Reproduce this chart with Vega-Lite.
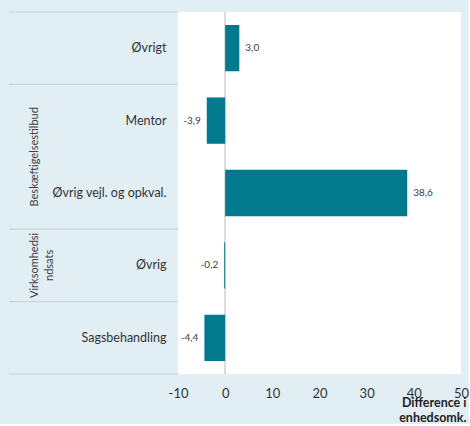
{
  "$schema": "https://vega.github.io/schema/vega-lite/v6.json",
  "background": "#e1eef4",
  "padding": {"left": 8, "top": 11, "right": 0, "bottom": 0},
  "bounds": "flush",
  "spacing": 0,
  "config": {
    "view": {"stroke": null},
    "font": "Lato",
    "locale": {"number": {"decimal": ",", "thousands": ".", "grouping": [3], "currency": ["", " kr."], "minus": "-"}}
  },
  "datasets": {
    "bars": [
      {"kategori": "Øvrigt", "gruppe": "", "diff": 3.0},
      {"kategori": "Mentor", "gruppe": "Beskæftigelsestilbud", "diff": -3.9},
      {"kategori": "Øvrig vejl. og opkval.", "gruppe": "Beskæftigelsestilbud", "diff": 38.6},
      {"kategori": "Øvrig", "gruppe": "Virksomhedsindsats", "diff": -0.2},
      {"kategori": "Sagsbehandling", "gruppe": "", "diff": -4.4}
    ],
    "groups": [
      {"gruppe": "", "label": "", "first": "Øvrigt", "last": "Øvrigt"},
      {"gruppe": "Beskæftigelsestilbud", "label": "Beskæftigelsestilbud", "first": "Mentor", "last": "Øvrig vejl. og opkval."},
      {"gruppe": "Virksomhedsindsats", "label": "Virksomhedsi\nndsats", "first": "Øvrig", "last": "Øvrig"},
      {"gruppe": "", "label": "", "first": "Sagsbehandling", "last": "Sagsbehandling"}
    ]
  },
  "hconcat": [
    {
      "width": 61,
      "height": 362,
      "data": {"name": "groups"},
      "layer": [
        {
          "mark": {"type": "rule", "color": "#c8d6dc", "strokeWidth": 1},
          "encoding": {
            "y": {"field": "first", "type": "nominal", "bandPosition": 0,
              "scale": {"domain": ["Øvrigt", "Mentor", "Øvrig vejl. og opkval.", "Øvrig", "Sagsbehandling"], "paddingInner": 0, "paddingOuter": 0},
              "axis": null}
          }
        },
        {
          "mark": {"type": "rule", "color": "#c8d6dc", "strokeWidth": 1},
          "encoding": {
            "y": {"field": "last", "type": "nominal", "bandPosition": 1}
          }
        },
        {
          "transform": [{"filter": "datum.first === datum.last"}],
          "mark": {"type": "text", "angle": 270, "fontSize": 11, "color": "#404040", "baseline": "bottom", "align": "center", "lineBreak": "\n", "lineHeight": 15},
          "encoding": {
            "y": {"field": "first", "type": "nominal", "bandPosition": 0.5},
            "text": {"field": "label"}
          }
        },
        {
          "transform": [{"filter": "datum.first !== datum.last"}],
          "mark": {"type": "text", "angle": 270, "fontSize": 11, "color": "#404040", "baseline": "bottom", "align": "center", "lineBreak": "\n", "lineHeight": 15},
          "encoding": {
            "y": {"field": "last", "type": "nominal", "bandPosition": 0},
            "text": {"field": "label"}
          }
        }
      ]
    },
    {
      "width": 108,
      "height": 362,
      "data": {"name": "groups"},
      "layer": [
        {
          "mark": {"type": "rule", "color": "#c8d6dc", "strokeWidth": 1},
          "encoding": {
            "y": {"field": "first", "type": "nominal", "bandPosition": 0,
              "scale": {"domain": ["Øvrigt", "Mentor", "Øvrig vejl. og opkval.", "Øvrig", "Sagsbehandling"], "paddingInner": 0, "paddingOuter": 0},
              "axis": null}
          }
        },
        {
          "mark": {"type": "rule", "color": "#c8d6dc", "strokeWidth": 1},
          "encoding": {
            "y": {"field": "last", "type": "nominal", "bandPosition": 1}
          }
        }
      ]
    },
    {
      "width": 283,
      "height": 362,
      "view": {"fill": "white", "stroke": null},
      "data": {"name": "bars"},
      "encoding": {
        "y": {"field": "kategori", "type": "nominal",
          "scale": {"domain": ["Øvrigt", "Mentor", "Øvrig vejl. og opkval.", "Øvrig", "Sagsbehandling"], "paddingInner": 0.36, "paddingOuter": 0.18},
          "axis": {"orient": "left", "title": null, "domain": false, "ticks": false, "tickSize": 0, "labelPadding": 12, "labelFontSize": 12.5, "labelColor": "#333333", "labelFont": "Lato"}}
      },
      "layer": [
        {
          "mark": {"type": "rule", "color": "#d9d9d9", "strokeWidth": 1},
          "encoding": {"x": {"datum": 0, "type": "quantitative"}, "y": null}
        },
        {
          "mark": {"type": "bar", "color": "#007a8c"},
          "encoding": {
            "x": {"field": "diff", "type": "quantitative",
              "scale": {"domain": [-10, 50], "nice": false, "zero": false},
              "axis": {"values": [-10, 0, 10, 20, 30, 40, 50], "format": "d", "domain": false, "ticks": false, "grid": false, "labelFlush": false, "labelOverlap": false,
                "labelPadding": 13, "labelFontSize": 13, "labelColor": "#333333",
                "title": ["Difference i", "enhedsomk."], "titleFontSize": 12.5, "titleFontWeight": "bold", "titleColor": "#222222",
                "titleAnchor": "end", "titleAlign": "right", "titleBaseline": "top", "titleX": 288, "titleY": 22, "titleLineHeight": 15}}
          }
        },
        {
          "transform": [{"filter": "datum.diff >= 0"}],
          "mark": {"type": "text", "align": "left", "dx": 6, "fontSize": 10, "color": "#404040", "baseline": "middle"},
          "encoding": {
            "x": {"field": "diff", "type": "quantitative"},
            "text": {"field": "diff", "type": "quantitative", "format": ".1f"}
          }
        },
        {
          "transform": [{"filter": "datum.diff < 0"}],
          "mark": {"type": "text", "align": "right", "dx": -6, "fontSize": 10, "color": "#404040", "baseline": "middle"},
          "encoding": {
            "x": {"field": "diff", "type": "quantitative"},
            "text": {"field": "diff", "type": "quantitative", "format": ".1f"}
          }
        }
      ]
    }
  ]
}
